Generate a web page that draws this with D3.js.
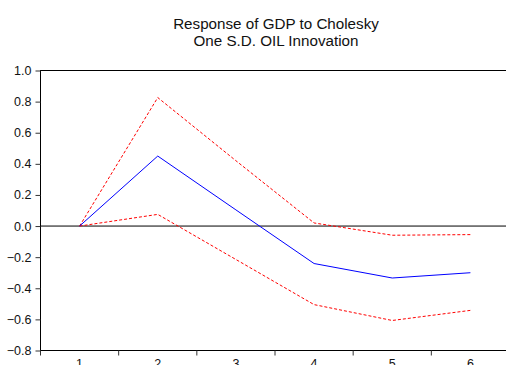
<!DOCTYPE html>
<html>
<head>
<meta charset="utf-8">
<title>Response of GDP to Cholesky</title>
<script src="https://d3js.org/d3.v7.min.js"></script>
<style>
  body { margin: 0; background: #fff; }
  text { font-family: "Liberation Sans", Arial, sans-serif; fill: #111; }
</style>
</head>
<body>
<svg width="506" height="365"></svg>
<script>
// periods and impulse response with +/- 2 S.E. bands
const periods = [1, 2, 3, 4, 5, 6];
const response = [0.0, 0.45, 0.104, -0.241, -0.334, -0.30];
const upper = [0.0, 0.826, 0.42, 0.02, -0.059, -0.055];
const lower = [0.0, 0.075, -0.215, -0.505, -0.607, -0.542];
const yTicks = [1.0, 0.8, 0.6, 0.4, 0.2, 0.0, -0.2, -0.4, -0.6, -0.8];
const titleLines = ["Response of GDP to Cholesky", "One S.D. OIL Innovation"];

const svg = d3.select("svg");
const m = {left: 40.5, top: 70.5, right: 509.5, bottom: 350.5};

const x = d3.scaleBand().domain(periods).range([m.left, m.right]);
const y = d3.scaleLinear().domain([-0.8, 1.0]).range([m.bottom, m.top]);
const cx = d => x(d) + x.bandwidth() / 2;

// title
svg.append("g").selectAll("text")
  .data(titleLines).enter().append("text")
  .attr("x", 276).attr("y", (d, i) => 28.5 + i * 17.5)
  .attr("text-anchor", "middle")
  .attr("font-size", 15.2)
  .text(d => d);

// frame
svg.append("rect")
  .attr("x", m.left).attr("y", m.top)
  .attr("width", m.right - m.left).attr("height", m.bottom - m.top)
  .attr("fill", "none").attr("stroke", "#000").attr("stroke-width", 1);

// y axis
const yAxis = d3.axisLeft(y).tickValues(yTicks).tickSize(5).tickPadding(4)
  .tickFormat(d3.format(".1f"));
const gy = svg.append("g").attr("transform", `translate(${m.left},0)`).call(yAxis);
gy.select(".domain").remove();
gy.selectAll("text").attr("font-size", 12.5).attr("font-family", null).attr("fill", "#111");
gy.selectAll("line").attr("stroke", "#333");

// x axis: ticks at band edges, labels at band centres
const edges = periods.map(p => x(p)).concat([m.right]);
svg.append("g").selectAll("line")
  .data(edges).enter().append("line")
  .attr("x1", d => d).attr("x2", d => d)
  .attr("y1", m.bottom).attr("y2", m.bottom + 5)
  .attr("stroke", "#333");
svg.append("g").selectAll("text")
  .data(periods).enter().append("text")
  .attr("x", d => cx(d)).attr("y", m.bottom + 17.5)
  .attr("text-anchor", "middle")
  .attr("font-size", 12.5)
  .text(d => d);

// zero line
svg.append("line")
  .attr("x1", m.left).attr("x2", m.right)
  .attr("y1", y(0)).attr("y2", y(0))
  .attr("stroke", "#000").attr("stroke-width", 1);

const line = d3.line().x((d, i) => cx(periods[i])).y(d => y(d));

svg.append("path").datum(upper)
  .attr("d", line).attr("fill", "none")
  .attr("stroke", "#ff0000").attr("stroke-width", 1)
  .attr("stroke-dasharray", "3,2");
svg.append("path").datum(lower)
  .attr("d", line).attr("fill", "none")
  .attr("stroke", "#ff0000").attr("stroke-width", 1)
  .attr("stroke-dasharray", "3,2");
svg.append("path").datum(response)
  .attr("d", line).attr("fill", "none")
  .attr("stroke", "#0000ff").attr("stroke-width", 1);
</script>
</body>
</html>
